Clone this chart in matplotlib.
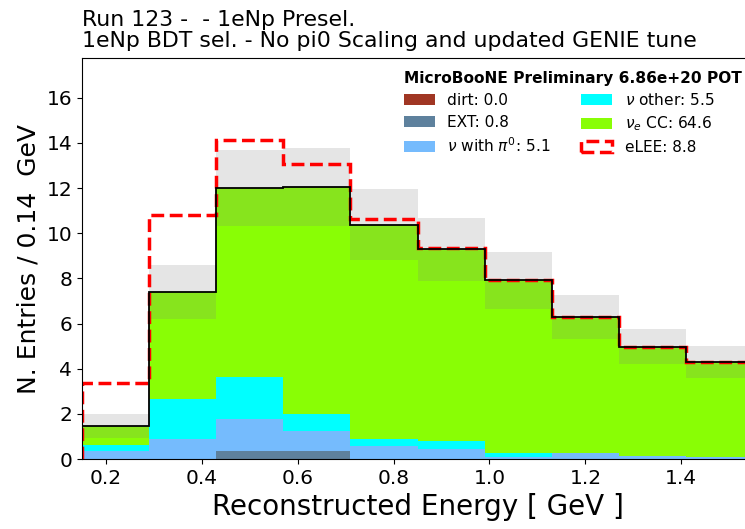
import numpy as np
import matplotlib
matplotlib.use("Agg")
import matplotlib.pyplot as plt

# reconstructed energy binning [GeV]
BIN_EDGES = np.linspace(0.15, 1.55, 11)

# predicted events per bin, one array per category
dirt = [0.0, 0.0, 0.0, 0.0, 0.0, 0.0, 0.0, 0.0, 0.0, 0.0]
ext = [0.02, 0.0, 0.37, 0.37, 0.02, 0.02, 0.0, 0.0, 0.0, 0.0]
nu_pi0 = [0.35, 0.88, 1.43, 0.87, 0.58, 0.44, 0.11, 0.27, 0.13, 0.08]
nu_other = [0.27, 1.80, 1.84, 0.75, 0.31, 0.36, 0.15, 0.02, 0.01, 0.0]
nue_cc = [0.84, 4.72, 8.36, 10.06, 9.47, 8.47, 7.65, 6.00, 4.84, 4.23]
elee = [1.90, 3.40, 2.15, 1.00, 0.25, 0.06, 0.03, 0.0, 0.0, 0.0]
# total uncertainty on the stacked prediction
err = [0.53, 1.21, 1.70, 1.74, 1.56, 1.39, 1.27, 0.97, 0.78, 0.70]

LABELS = ["dirt", "EXT", r"$\nu$ with $\pi^0$", r"$\nu$ other", r"$\nu_e$ CC"]
COLORS = ["xkcd:brick", "xkcd:greyish blue", "xkcd:sky blue", "xkcd:cyan", "xkcd:lime green"]

centers = 0.5 * (BIN_EDGES[:-1] + BIN_EDGES[1:])
width = np.diff(BIN_EDGES)
stack = [dirt, ext, nu_pi0, nu_other, nue_cc]
total = np.sum(stack, axis=0)

fig = plt.figure(figsize=(7.45, 5.29), dpi=100)
ax = fig.add_axes([0.110, 0.132, 0.901, 0.758])

ax.hist([centers] * len(stack), bins=BIN_EDGES, weights=stack, stacked=True,
        color=COLORS, label=[f"{l}: {sum(v):.1f}" for l, v in zip(LABELS, stack)])
ax.hist(centers, bins=BIN_EDGES, weights=total + np.array(elee), histtype="step",
        color="red", lw=2.5, ls="--", label=f"eLEE: {sum(elee):.1f}")
ax.hist(centers, bins=BIN_EDGES, weights=total, histtype="step", color="black", lw=1.3)
ax.bar(centers, 2 * np.array(err), width=width, bottom=total - np.array(err),
       color="grey", alpha=0.2, linewidth=0)

ax.set_xlim(0.15, 1.55)
ax.set_ylim(0, 17.75)
ax.set_xticks([0.2, 0.4, 0.6, 0.8, 1.0, 1.2, 1.4])
ax.set_yticks(range(0, 17, 2))
ax.tick_params(labelsize=14.5)
ax.set_xlabel("Reconstructed Energy [ GeV ]", fontsize=20)
ax.set_ylabel("N. Entries / 0.14  GeV", fontsize=18)
ax.set_title("Run 123 -  - 1eNp Presel.\n1eNp BDT sel. - No pi0 Scaling and updated GENIE tune",
             loc="left", fontsize=15.8, linespacing=1.08, pad=8)

leg = ax.legend(ncol=2, frameon=False, fontsize=11.1, loc="upper right",
                bbox_to_anchor=(748 / 745, 0.878), bbox_transform=fig.transFigure,
                borderaxespad=0, labelspacing=0.42, alignment="left",
                title="MicroBooNE Preliminary 6.86e+20 POT",
                title_fontproperties={"weight": "bold", "size": 11.1})

fig.savefig("out.png", dpi=100)
